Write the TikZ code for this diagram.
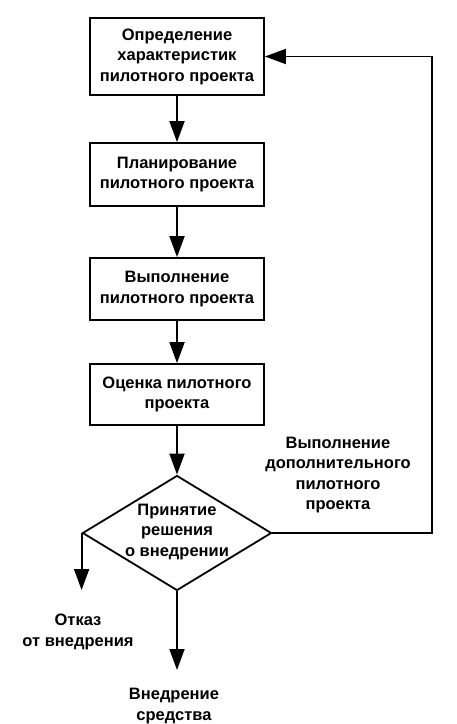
\documentclass[tikz,border=0pt]{standalone}
\usepackage{fontspec}
\setmainfont{Liberation Sans}
\usetikzlibrary{arrows.meta,shapes.geometric}
\begin{document}
\begin{tikzpicture}[x=1pt, y=-1pt, line width=1.8pt, >={Triangle[length=21pt, width=15pt]}]
  \tikzstyle{blok}=[draw, rectangle, align=center, inner sep=0pt, minimum width=174pt, font=\fontsize{16.5}{20.5}\selectfont\bfseries]
  \tikzstyle{romb}=[draw, diamond, inner sep=0pt, minimum width=189pt, minimum height=115pt]
  \tikzstyle{tekst}=[align=center, inner sep=0pt, font=\fontsize{16.5}{20.5}\selectfont\bfseries]

  \useasboundingbox[fill=white] (0,0) rectangle (456,724);

  % этапы пилотного проекта
  \node[blok, minimum height=77pt] (opred) at (177,56.5) {Определение\\характеристик\\пилотного проекта};
  \node[blok, minimum height=63pt] (plan) at (177,174.5) {Планирование\\пилотного проекта};
  \node[blok, minimum height=62pt] (vypoln) at (177,289) {Выполнение\\пилотного проекта};
  \node[blok, minimum height=61pt] (ocenka) at (177,394.5) {Оценка пилотного\\проекта};

  \draw[->] (opred) -- (plan);
  \draw[->] (plan) -- (vypoln);
  \draw[->] (vypoln) -- (ocenka);

  % принятие решения
  \node[romb] (reshenie) at (177,533) {};
  \node[tekst] (reshtxt) at (177,532) {Принятие\\решения\\о внедрении};
  \draw[->] (ocenka) -- (reshenie);

  % возврат на начало
  \coordinate (povtor) at (432,56.5);
  \draw[->] (reshenie.east) -| (povtor) -- (opred.east);
  \node[tekst] (dopoln) at (338,475) {Выполнение\\дополнительного\\пилотного\\проекта};

  % исходы
  \coordinate (otkaz-k) at (reshenie.west |- 0,590);
  \draw[->] (reshenie.west) -- (otkaz-k);
  \node[tekst] (otkaz) at (78,632) {Отказ\\от внедрения};

  \coordinate (vnedr-k) at (reshenie.south |- 0,670);
  \draw[->] (reshenie.south) -- (vnedr-k);
  \node[tekst] (vnedr) at (174,706) {Внедрение\\средства};
\end{tikzpicture}
\end{document}
